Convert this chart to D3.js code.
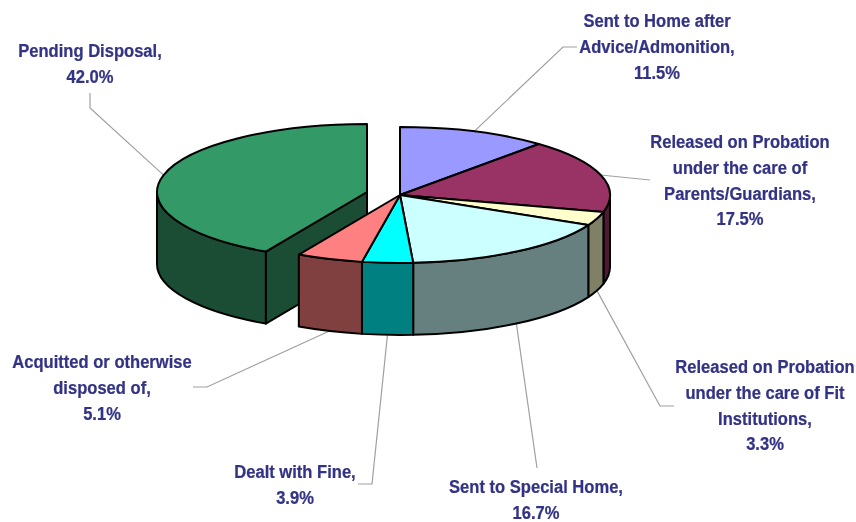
<!DOCTYPE html>
<html>
<head>
<meta charset="utf-8">
<script src="https://cdn.jsdelivr.net/npm/d3@7"></script>
<style>
  body { margin: 0; background: #fff; }
  svg { display: block; filter: blur(0.4px); }
  text { font-family: "Liberation Sans", Arial, sans-serif; font-weight: bold; font-size: 18.4px; fill: #333385; stroke: #333385; stroke-width: 0.25; }
</style>
</head>
<body>
<div id="chart"></div>
<script>
// chart data
var categories = ["Sent to Home after Advice/Admonition", "Released on Probation under the care of Parents/Guardians",
  "Released on Probation under the care of Fit Institutions", "Sent to Special Home", "Dealt with Fine",
  "Acquitted or otherwise disposed of", "Pending Disposal"];
var shares = [11.5, 17.5, 3.3, 16.7, 3.9, 5.1, 42.0];
var topColors = ["#9999ff", "#993366", "#ffffcc", "#ccffff", "#00ffff", "#ff8080", "#339966"];
var sideColors = ["#4d4d80", "#4d1a33", "#808066", "#668080", "#008080", "#804040", "#1a4d33"];
var labelLines = [
  ["Sent to Home after", "Advice/Admonition,", "11.5%"],
  ["Released on Probation", "under the care of", "Parents/Guardians,", "17.5%"],
  ["Released on Probation", "under the care of Fit", "Institutions,", "3.3%"],
  ["Sent to Special Home,", "16.7%"],
  ["Dealt with Fine,", "3.9%"],
  ["Acquitted or otherwise", "disposed of,", "5.1%"],
  ["Pending Disposal,", "42.0%"]
];

var svgWidth = 856;
var svgHeight = 522;

// label centre and first baseline, then the bend(s) of the leader line
var labelPos = [
  { x: 657, y: 27, leader: [[563, 47], [577, 47]] },
  { x: 740, y: 148, leader: [[650, 180]] },
  { x: 765, y: 373, leader: [[660, 406], [674, 406]] },
  { x: 536, y: 493, leader: [[537, 468]] },
  { x: 295, y: 478, leader: [[372, 484], [358, 484]] },
  { x: 102, y: 368, leader: [[207, 387], [193, 387]] },
  { x: 90, y: 57, leader: [[90, 108], [90, 93]] }
];

var rx = 210, ry = 68, depth = 72;
var center = { x: 400, y: 195 };
var explodedCenter = { x: 367, y: 192 };

var svg = d3.select("#chart")
  .append("svg")
  .attr("width", svgWidth)
  .attr("height", svgHeight);

var slices = d3.pie().sort(null)(shares);

function rim(c, a) {
  return [c.x + rx * Math.sin(a), c.y - ry * Math.cos(a)];
}

function centerOf(i) {
  return i === 6 ? explodedCenter : center;
}

// top face of a slice
function topPath(d, c) {
  var p0 = rim(c, d.startAngle), p1 = rim(c, d.endAngle);
  var large = d.endAngle - d.startAngle > Math.PI ? 1 : 0;
  return `M${c.x},${c.y}L${p0}A${rx},${ry} 0 ${large} 1 ${p1}Z`;
}

// visible part of the outer wall, only the front half of the ellipse shows
function wallPath(d, c) {
  var a0 = Math.max(d.startAngle, Math.PI / 2);
  var a1 = Math.min(d.endAngle, Math.PI * 1.5);
  if (a1 <= a0) return null;
  var p0 = rim(c, a0), p1 = rim(c, a1);
  return `M${p0}A${rx},${ry} 0 0 1 ${p1}L${p1[0]},${p1[1] + depth}` +
    `A${rx},${ry} 0 0 0 ${p0[0]},${p0[1] + depth}Z`;
}

// leader lines go underneath the pie
var leaderLine = d3.line();
slices.forEach(function(d, i) {
  var mid = (d.startAngle + d.endAngle) / 2;
  var start = rim(centerOf(i), mid);
  if (mid > Math.PI / 2 && mid < Math.PI * 1.5) start[1] += depth;
  svg.append("path")
    .attr("d", leaderLine([start].concat(labelPos[i].leader)))
    .attr("fill", "none")
    .attr("stroke", "#a0a0a0")
    .attr("stroke-width", 1.2);
});

function drawSlice(i) {
  var d = slices[i], c = centerOf(i);
  var wall = wallPath(d, c);
  if (wall) {
    svg.append("path").attr("class", "wall").attr("d", wall)
      .attr("fill", sideColors[i]).attr("stroke", "#000").attr("stroke-width", 2)
      .attr("stroke-linejoin", "round");
  }
}

function drawTop(i) {
  svg.append("path").attr("class", "top").attr("d", topPath(slices[i], centerOf(i)))
    .attr("fill", topColors[i]).attr("stroke", "#000").attr("stroke-width", 2)
    .attr("stroke-linejoin", "round");
}

// exploded slice first: its cut face is partly hidden by the rest of the pie
var pending = slices[6];
var cut = rim(explodedCenter, pending.startAngle);
svg.append("path")
  .attr("d", `M${cut}L${explodedCenter.x},${explodedCenter.y}L${explodedCenter.x},${explodedCenter.y + depth}L${cut[0]},${cut[1] + depth}Z`)
  .attr("fill", sideColors[6]).attr("stroke", "#000").attr("stroke-width", 2)
  .attr("stroke-linejoin", "round");
drawSlice(6);
drawTop(6);

d3.range(6).forEach(drawSlice);
d3.range(6).forEach(drawTop);

// labels
labelLines.forEach(function(lines, i) {
  var t = svg.append("text")
    .attr("text-anchor", "middle")
    .attr("transform", `translate(${labelPos[i].x},${labelPos[i].y}) scale(0.9,1)`);
  lines.forEach(function(line, j) {
    t.append("tspan").attr("x", 0).attr("y", j * 25.8).text(line);
  });
});
</script>
</body>
</html>
